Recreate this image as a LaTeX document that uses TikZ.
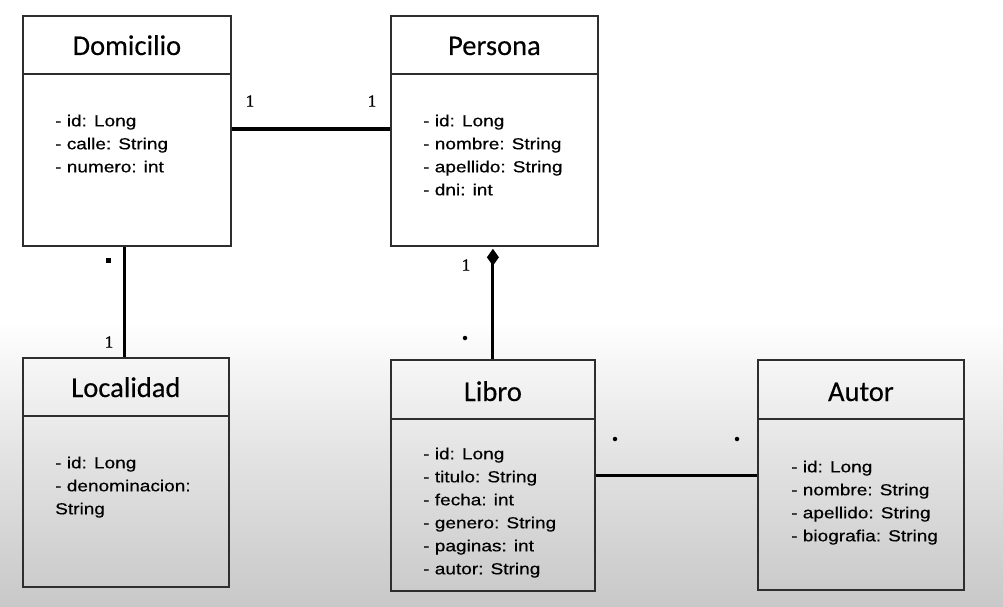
\documentclass[tikz,border=0pt]{standalone}
\usepackage{fontspec}
\usetikzlibrary{arrows.meta}
\newfontfamily\titlefont[FakeBold=0.3]{Carlito}
\newfontfamily\attrfont[FakeStretch=1.19,FakeBold=0.5]{Liberation Sans}
\newfontfamily\multfont[FakeBold=1.2]{Liberation Serif}
\definecolor{edge}{HTML}{2E2E2E}
\definecolor{bgmid}{HTML}{E4E4E4}
\definecolor{bgbot}{HTML}{C8C8C8}
\tikzset{
  classbox/.style={draw=edge, line width=1.8pt, anchor=north west, inner sep=0pt},
  sepline/.style={draw=edge, line width=1.8pt},
  classname/.style={font=\titlefont\fontsize{28.5}{32}\selectfont, anchor=base, inner sep=0pt},
  attrs/.style={font=\attrfont\fontsize{16}{23}\selectfont, align=left, anchor=north west, inner sep=0pt},
  link/.style={line width=3pt, black},
  mult/.style={font=\multfont\fontsize{17}{20}\selectfont, inner sep=0pt},
  dotmark/.style={circle, fill=black, inner sep=0pt, minimum size=4.5pt},
  sqmark/.style={rectangle, fill=black, inner sep=0pt, minimum size=5pt},
}
\begin{document}
\begin{tikzpicture}[x=1pt,y=-1pt]
  \useasboundingbox (0,0) rectangle (1003,607);
  % background: white fading to grey towards the bottom
  \fill[white] (0,0) rectangle (1003,607);
  \shade[top color=white, bottom color=bgmid] (0,320) rectangle (1003,450.5);
  \shade[top color=bgmid, bottom color=bgbot] (0,450) rectangle (1003,607);

  % class boxes
  \node[classbox, minimum width=208pt, minimum height=230pt] (dom) at (22,15) {};
  \node[classbox, minimum width=207pt, minimum height=230pt] (per) at (390,15) {};
  \node[classbox, minimum width=206pt, minimum height=229pt] (loc) at (22,357) {};
  \node[classbox, minimum width=204pt, minimum height=231pt] (lib) at (390,359) {};
  \node[classbox, minimum width=206pt, minimum height=230pt] (aut) at (757,359) {};

  % header separators
  \draw[sepline] ([yshift=-59pt]dom.north west) -- ([yshift=-59pt]dom.north east);
  \draw[sepline] ([yshift=-59pt]per.north west) -- ([yshift=-59pt]per.north east);
  \draw[sepline] ([yshift=-59pt]loc.north west) -- ([yshift=-59pt]loc.north east);
  \draw[sepline] ([yshift=-60pt]lib.north west) -- ([yshift=-60pt]lib.north east);
  \draw[sepline] ([yshift=-60pt]aut.north west) -- ([yshift=-60pt]aut.north east);

  % class names
  \node[classname] (domT) at ([yshift=-40pt]dom.north) {Domicilio};
  \node[classname] (perT) at ([yshift=-40pt]per.north) {Persona};
  \node[classname] (locT) at ([yshift=-40pt]loc.north) {Localidad};
  \node[classname] (libT) at ([yshift=-42pt]lib.north) {Libro};
  \node[classname] (autT) at ([yshift=-42pt]aut.north) {Autor};

  % attributes
  \node[attrs] (domA) at (55,114.5) {- id: Long\\- calle: String\\- numero: int};
  \node[attrs] (perA) at (423,114.5) {- id: Long\\- nombre: String\\- apellido: String\\- dni: int};
  \node[attrs] (locA) at (55,456.5) {- id: Long\\- denominacion:\\String};
  \node[attrs] (libA) at (423,447.5) {- id: Long\\- titulo: String\\- fecha: int\\- genero: String\\- paginas: int\\- autor: String};
  \node[attrs] (autA) at (791,460.5) {- id: Long\\- nombre: String\\- apellido: String\\- biografia: String};

  % associations
  \draw[link] ([yshift=-114pt]dom.north east) -- ([yshift=-114pt]per.north west);
  \draw[link] ([xshift=-2pt]dom.south) -- ([xshift=-1pt]loc.north);
  \draw[link, -{Diamond[length=17pt,width=12pt]}, shorten >=2pt] (lib.north) -- (lib.north |- per.south);
  \draw[link] ([yshift=-116pt]lib.north east) -- ([yshift=-116pt]aut.north west);

  % multiplicities
  \node[mult] (m1) at (250,101) {1};
  \node[mult] (m2) at (372,101) {1};
  \node[sqmark] (m3) at (108,260) {};
  \node[mult] (m4) at (109,342) {1};
  \node[mult] (m5) at (466,265) {1};
  \node[dotmark] (m6) at (465,338) {};
  \node[dotmark] (m7) at (615,439) {};
  \node[dotmark] (m8) at (737,439) {};
\end{tikzpicture}
\end{document}
